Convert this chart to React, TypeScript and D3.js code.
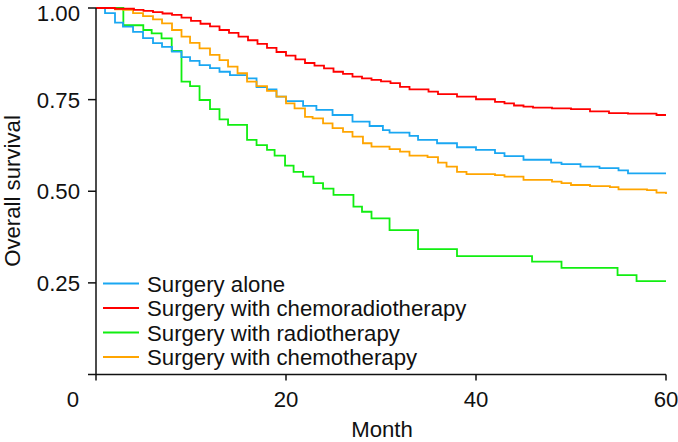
import React from "react";
import * as d3 from "d3";

const seriesNames = [
  "Surgery alone",
  "Surgery with chemoradiotherapy",
  "Surgery with radiotherapy",
  "Surgery with chemotherapy",
];
const seriesColors = ["#1AA7F2", "#FF0000", "#11EE11", "#FFA500"];

const aloneTime = [0, 0.95, 2, 2.84, 3.9, 4.95, 6, 6.95, 8, 9, 9.9, 10.9, 12, 13, 14.1, 15.9, 16.9, 18, 19, 20, 21.8, 23.2, 24.9, 27, 28.8, 30.2, 30.9, 33, 33.9, 35.9, 38, 40, 42, 43, 45, 47.9, 49, 51, 53, 55, 56, 60];
const aloneSurv = [1, 0.986, 0.96, 0.949, 0.935, 0.918, 0.904, 0.894, 0.881, 0.866, 0.856, 0.844, 0.836, 0.826, 0.817, 0.808, 0.784, 0.778, 0.758, 0.746, 0.733, 0.722, 0.708, 0.69, 0.678, 0.667, 0.66, 0.651, 0.64, 0.631, 0.62, 0.613, 0.604, 0.596, 0.586, 0.578, 0.574, 0.567, 0.563, 0.557, 0.549, 0.549];

const chemoRadioTime = [0, 2, 4, 5, 6, 7, 8, 9, 10, 11, 12, 13, 14, 15, 16, 17, 18, 19, 20, 21, 22, 23, 24, 25, 26, 27, 28, 29, 30, 31, 32, 33, 35, 36, 38, 40, 42, 43, 44, 45, 46, 48, 50, 52, 54, 56, 59, 60];
const chemoRadioSurv = [1, 0.998, 0.995, 0.992, 0.989, 0.985, 0.981, 0.974, 0.965, 0.957, 0.95, 0.94, 0.932, 0.922, 0.912, 0.902, 0.891, 0.88, 0.87, 0.86, 0.85, 0.843, 0.835, 0.826, 0.82, 0.813, 0.808, 0.804, 0.8, 0.795, 0.785, 0.778, 0.772, 0.765, 0.758, 0.751, 0.744, 0.74, 0.734, 0.731, 0.728, 0.726, 0.724, 0.718, 0.713, 0.712, 0.708, 0.708];

const radioTime = [0, 2.88, 4.98, 5.86, 6.9, 7.97, 9.0, 9.9, 10.9, 12, 13, 13.9, 15.9, 16.9, 18, 18.8, 19.9, 20.8, 21.8, 22.9, 23.9, 25, 27.1, 28, 29, 30.9, 33.9, 38, 45.9, 49, 54.9, 56.9, 60];
const radioSurv = [1, 0.953, 0.94, 0.931, 0.917, 0.883, 0.799, 0.787, 0.749, 0.724, 0.696, 0.681, 0.64, 0.626, 0.613, 0.597, 0.57, 0.553, 0.54, 0.522, 0.507, 0.49, 0.458, 0.444, 0.426, 0.394, 0.342, 0.323, 0.308, 0.291, 0.271, 0.255, 0.255];

const chemoTime = [0, 2, 2.84, 3.9, 4.95, 6, 6.95, 8, 9, 9.9, 10.9, 12, 13, 13.9, 14.9, 15.9, 16.9, 18, 19, 20, 20.9, 22, 22.8, 23.9, 24.9, 26, 27, 28.1, 29, 30.9, 32, 33, 34.9, 36, 36.9, 38, 39, 42, 43, 45, 48, 49, 50, 52, 54.1, 55, 58, 59, 60];
const chemoSurv = [1, 0.996, 0.995, 0.986, 0.978, 0.969, 0.958, 0.94, 0.922, 0.905, 0.89, 0.872, 0.858, 0.84, 0.822, 0.799, 0.787, 0.774, 0.758, 0.74, 0.726, 0.703, 0.699, 0.685, 0.672, 0.662, 0.649, 0.631, 0.622, 0.615, 0.608, 0.597, 0.593, 0.578, 0.567, 0.553, 0.547, 0.544, 0.54, 0.531, 0.526, 0.522, 0.517, 0.514, 0.511, 0.505, 0.503, 0.496, 0.4925];

const xTicks = [0, 20, 40, 60];
const yTicks = [0.25, 0.5, 0.75, 1.0];
const yTickLabels = ["0.25", "0.50", "0.75", "1.00"];

const W = 678;
const H = 442;
const FONT = "'Liberation Sans', Arial, Helvetica, sans-serif";
const FS = 22.2;

export default function App() {
  const x = d3.scaleLinear().domain([0, 60]).range([96, 666]);
  const y = d3.scaleLinear().domain([0, 1]).range([374.5, 8]);

  const series = [
    { t: aloneTime, s: aloneSurv },
    { t: chemoRadioTime, s: chemoRadioSurv },
    { t: radioTime, s: radioSurv },
    { t: chemoTime, s: chemoSurv },
  ];

  const line = d3
    .line<[number, number]>()
    .x((d) => x(d[0]))
    .y((d) => y(d[1]))
    .curve(d3.curveStepAfter);

  const order = [2, 0, 3, 1];

  return (
    <div style={{ position: "fixed", left: 0, top: 0, width: W, height: H, background: "#fff" }}>
      <svg width={W} height={H} style={{ display: "block" }} fontFamily={FONT}>
        <rect width={W} height={H} fill="#fff" />
        {order.map((i) => {
          const pts: [number, number][] = series[i].t.map((tt, k) => [tt, series[i].s[k]]);
          return (
            <path
              key={i}
              d={line(pts) || ""}
              fill="none"
              stroke={seriesColors[i]}
              strokeWidth={1.8}
            />
          );
        })}

        {/* y axis */}
        <line x1={x(0)} x2={x(0)} y1={y(1)} y2={y(0)} stroke="#111" strokeWidth={1.5} />
        {yTicks.map((v, i) => (
          <g key={v}>
            <line x1={x(0) - 8} x2={x(0)} y1={y(v)} y2={y(v)} stroke="#111" strokeWidth={1.5} />
            <text x={80} y={Math.max(y(v) + 8, 20.5)} textAnchor="end" fontSize={FS} fill="#111">
              {yTickLabels[i]}
            </text>
          </g>
        ))}

        {/* x axis */}
        <line x1={x(0) - 8} x2={x(60)} y1={y(0)} y2={y(0)} stroke="#111" strokeWidth={1.5} />
        {xTicks.map((v) => (
          <g key={v}>
            <line x1={x(v)} x2={x(v)} y1={y(0)} y2={y(0) + 6} stroke="#111" strokeWidth={1.5} />
            <text
              x={v === 0 ? x(v) - 23 : x(v)}
              y={407}
              textAnchor="middle"
              fontSize={FS}
              fill="#111"
            >
              {String(v)}
            </text>
          </g>
        ))}

        <text x={382} y={437} textAnchor="middle" fontSize={FS} fill="#111">
          Month
        </text>
        <text
          transform={`translate(19.5, 191) rotate(-90)`}
          textAnchor="middle"
          fontSize={FS}
          fill="#111"
        >
          Overall survival
        </text>

        {/* legend */}
        {seriesNames.map((name, i) => {
          const cy = 283.5 + i * 24.5;
          return (
            <g key={name}>
              <line x1={103} x2={139} y1={cy} y2={cy} stroke={seriesColors[i]} strokeWidth={1.8} />
              <text x={147} y={cy + 8} fontSize={FS} fill="#111">
                {name}
              </text>
            </g>
          );
        })}
      </svg>
    </div>
  );
}
